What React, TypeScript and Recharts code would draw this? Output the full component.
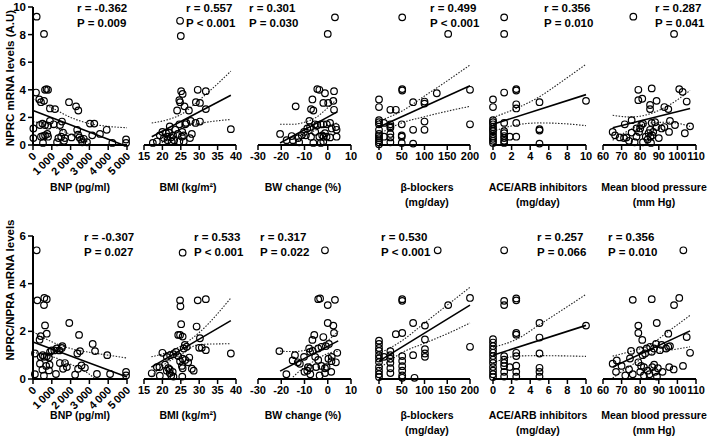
import { ComposedChart, Scatter, Line, XAxis, YAxis } from 'recharts';

type Pt = [number, number];

// x axes (shared by both rows)
const bnpTicks = [0, 1000, 2000, 3000, 4000, 5000];
const bmiTicks = [15, 20, 25, 30, 35, 40];
const bwTicks = [-30, -20, -10, 0, 10];
const betaTicks = [0, 50, 100, 150, 200];
const aceTicks = [0, 2, 4, 6, 8, 10];
const mbpTicks = [60, 70, 80, 90, 100, 110];
const topYTicks = [0, 2, 4, 6, 8, 10];
const bottomYTicks = [0, 2, 4, 6];

const xTitles = [
  ['BNP (pg/ml)'],
  ['BMI (kg/m²)'],
  ['BW change (%)'],
  ['β-blockers', '(mg/day)'],
  ['ACE/ARB inhibitors', '(mg/day)'],
  ['Mean blood pressure', '(mm Hg)'],
];
const topStats = [
  ['r = -0.362', 'P = 0.009'],
  ['r = 0.557', 'P < 0.001'],
  ['r = 0.301', 'P = 0.030'],
  ['r = 0.499', 'P < 0.001'],
  ['r = 0.356', 'P = 0.010'],
  ['r = 0.287', 'P = 0.041'],
];
const bottomStats = [
  ['r = -0.307', 'P = 0.027'],
  ['r = 0.533', 'P < 0.001'],
  ['r = 0.317', 'P = 0.022'],
  ['r = 0.530', 'P < 0.001'],
  ['r = 0.257', 'P = 0.066'],
  ['r = 0.356', 'P = 0.010'],
];

// ---- top row: NPRC mRNA levels ----
const bnpNprc: Pt[] = [[195,9.3],[585,8.05],[160,3.8],[640,4.0],[720,4.05],[800,4.0],[335,3.3],[425,3.1],[585,3.2],[900,2.65],[1170,2.6],[1915,3.1],[2290,2.8],[2410,2.5],[20,1.2],[370,1.45],[500,1.55],[640,1.45],[800,1.4],[900,1.75],[20,0.5],[425,0.6],[530,0.65],[640,0.7],[800,0.6],[530,0.15],[760,0.8],[1280,0.2],[1436,1.45],[1540,1.7],[1600,0.9],[1700,0.5],[1650,0.3],[2350,1.1],[2400,0.75],[2470,0.55],[2560,0.4],[2620,0.2],[2700,0.45],[2870,0.2],[3030,1.55],[3260,1.55],[3150,0.7],[3560,0.8],[3920,1.1],[4220,0.15],[4950,0.4],[4950,0.15],[1350,0.5],[1500,0.6],[2050,0.55],[1100,1.5]];
const bnpNprcFit: Pt[] = [[0,2.5],[4800,0]];
const bnpNprcHi: Pt[] = [[0,3.35],[1000,2.7],[2000,2.0],[3000,1.55],[4000,1.35],[5000,1.25]];
const bnpNprcLo: Pt[] = [[0,1.7],[1000,1.35],[2000,0.75],[3000,0.08],[3050,0]];

const bmiNprc: Pt[] = [[24.8,9.0],[25.0,7.9],[25.1,3.9],[25.5,3.7],[24.6,3.25],[24.8,3.1],[26,2.8],[24,2.5],[27.2,2.5],[29.6,4.0],[31.8,3.9],[29.1,3.1],[30.2,3.05],[31.8,2.6],[38.6,1.15],[17.4,0.15],[19.3,0.7],[20,0.95],[20.4,0.5],[21,0.85],[21.3,0.6],[21.4,0.35],[21.8,0.9],[22,1.35],[22.3,0.55],[22.5,0.25],[22.9,0.7],[23.2,0.35],[24.6,1.5],[25.3,0.6],[25.4,0.95],[25.8,0.7],[26.2,1.5],[26.5,1.6],[27.5,0.5],[27.7,1.75],[29,1.6],[30.2,1.7],[24.6,0.25],[25.8,0.25],[18.5,0.25],[23.5,1.1],[28,0.8],[24.2,0.8]];
const bmiNprcFit: Pt[] = [[17.1,0.6],[38.6,3.6]];
const bmiNprcHi: Pt[] = [[17.1,1.6],[21,1.8],[25,2.2],[30,3.25],[38.6,5.35]];
const bmiNprcLo: Pt[] = [[19.3,0],[21,0.45],[25,1.2],[30,1.55],[38.6,1.85]];

const bwNprc: Pt[] = [[3.1,9.25],[0,8.05],[-4.5,4.05],[-3.6,4.0],[-1.2,3.75],[2.7,3.9],[-6.6,3.3],[-1.9,3.05],[0.2,3.05],[2.4,3.2],[-13.8,2.8],[-7.2,2.6],[-6.2,2.5],[2.7,2.55],[-7.9,1.75],[-5.5,1.5],[-4.5,1.45],[-3,1.5],[-1.9,1.5],[-0.4,1.5],[1,1.6],[-20.5,0.8],[-17.7,0.35],[-15.5,0.65],[-15,0.35],[-12.7,0.5],[-12.3,0.2],[-11.2,0.7],[-10.2,0.95],[-9.4,0.7],[-8.8,1.2],[-7.6,1.3],[-7.2,0.6],[-6.2,0.15],[-5.4,0.95],[-3.6,0.6],[-3.0,0.15],[-2.4,0.7],[-1.8,0.6],[-1.2,0.85],[-0.5,0.6],[1.0,0.55],[1.7,1.2],[3.5,1.3],[3.8,1.1],[3.8,0.6],[-1.9,0.25]];
const bwNprcFit: Pt[] = [[-20.5,0.15],[4.1,2.4]];
const bwNprcHi: Pt[] = [[-20.5,1.5],[-15,1.5],[-10,1.65],[-5,2.0],[0,2.7],[4.1,3.35]];
const bwNprcLo: Pt[] = [[-15,0],[-10,0.6],[-5,1.1],[0,1.4],[4.1,1.6]];

const betaNprc: Pt[] = [[51,9.25],[152,8.05],[51,4.05],[51,3.95],[0,3.3],[0,2.75],[25,2.55],[37,2.55],[75,3.1],[100,3.15],[100,3.0],[127,3.75],[200,4.0],[200,1.5],[0,1.8],[0,1.65],[0,1.5],[11,1.6],[25,1.5],[25,1.35],[25,1.25],[50,1.5],[75,1.1],[100,1.7],[100,1.1],[0,0.8],[0,0.65],[0,0.5],[0,0.35],[0,0.2],[0,1.1],[11,0.6],[25,0.8],[25,0.55],[50,0.7],[50,0.6],[50,0.15],[75,0.1],[0,0.05],[25,0.2]];
const betaNprcFit: Pt[] = [[0,1.3],[200,4.3]];
const betaNprcHi: Pt[] = [[0,1.75],[50,2.45],[100,3.55],[150,4.65],[200,5.8]];
const betaNprcLo: Pt[] = [[0,0.8],[50,1.6],[100,2.05],[150,2.45],[200,2.8]];

const aceNprc: Pt[] = [[1.2,9.25],[1.2,8.05],[0,3.3],[0,2.75],[1.2,3.8],[2.5,4.05],[2.5,3.95],[2.5,2.95],[2.5,2.65],[5,3.1],[10,3.2],[0,1.8],[0,1.65],[0,1.5],[0,1.3],[0,1.15],[0,1.0],[0,0.8],[0,0.6],[0,0.45],[0,0.3],[0,0.15],[1.2,1.6],[1.2,1.0],[1.2,0.85],[1.2,0.65],[1.2,0.5],[1.2,0.3],[1.2,0.15],[1.8,0.6],[2.5,0.6],[2.5,1.6],[5,1.15],[5,1.05],[5,0.1]];
const aceNprcFit: Pt[] = [[0,1.5],[10,3.65]];
const aceNprcHi: Pt[] = [[0,2.0],[2.5,2.65],[5,3.5],[7.5,4.65],[10,5.85]];
const aceNprcLo: Pt[] = [[0,1.0],[2.5,1.45],[5,1.6],[7.5,1.55],[10,1.4]];

const mbpNprc: Pt[] = [[76.3,9.3],[98.2,8.05],[79,4.0],[86.2,4.1],[101,4.05],[102.8,3.85],[79,3.25],[81.1,3.35],[88.8,3.2],[85.3,2.9],[85.3,2.6],[93,2.75],[95.1,2.6],[105,3.15],[75.4,1.8],[71.7,1.5],[65.2,0.95],[66.5,0.7],[69,0.55],[71.3,0.5],[72.6,0.55],[75.4,0.9],[78,0.6],[79.4,0.95],[80,1.2],[80.6,1.45],[81.5,1.55],[83,0.6],[84,0.4],[84.5,0.85],[85.5,0.6],[86.5,0.7],[87,0.95],[86.2,1.6],[88,1.65],[88.8,1.3],[91.5,1.2],[93,1.3],[96,1.75],[95.5,0.95],[98.7,1.45],[104,0.85],[106.8,1.35],[81.5,0.2],[85.8,0.15],[77,0.2],[78,1.2],[85.3,1.1],[90,0.5],[74,0.3]];
const mbpNprcFit: Pt[] = [[65.2,1.25],[106.8,2.65]];
const mbpNprcHi: Pt[] = [[65.2,2.15],[75,2.03],[85,2.25],[95,2.85],[106.8,3.95]];
const mbpNprcLo: Pt[] = [[65.2,0.35],[75,1.13],[85,1.6],[95,1.65],[106.8,1.35]];

// ---- bottom row: NPRC/NPRA ratio ----
const bnpRatio: Pt[] = [[195,5.4],[230,3.3],[600,3.4],[730,3.35],[585,3.1],[640,2.25],[730,1.9],[1930,2.35],[2450,1.85],[105,1.07],[410,1.8],[350,1.65],[410,0.93],[515,1.0],[600,0.93],[730,0.95],[850,0.9],[905,1.14],[995,1.2],[1135,1.2],[1260,1.28],[1400,1.2],[1530,1.3],[1560,1.38],[2360,1.07],[2500,1.17],[3175,1.47],[3300,1.17],[3950,1.0],[100,0.2],[370,0.64],[500,0.39],[580,0.14],[880,0.6],[850,0.36],[1220,0.21],[1430,0.67],[1600,0.43],[1700,0.67],[2240,0.18],[2400,0.43],[2580,0.57],[2760,0.47],[3400,0.21],[4100,0.21],[4950,0.3],[4950,0.15],[1800,0.5],[700,0.55]];
const bnpRatioFit: Pt[] = [[0,1.55],[5000,0.08]];
const bnpRatioHi: Pt[] = [[0,1.98],[1000,1.56],[2000,1.28],[3000,1.12],[4000,1.0],[5000,0.88]];
const bnpRatioLo: Pt[] = [[0,1.12],[1000,0.94],[2000,0.62],[3000,0.2],[3300,0]];

const bmiRatio: Pt[] = [[25.5,5.3],[24.8,3.3],[24.9,3.05],[29.6,3.3],[31.8,3.35],[25.1,2.3],[29.3,2.2],[24.3,1.85],[24.8,1.85],[25.5,1.78],[26.1,1.43],[26.6,1.35],[25.8,1.28],[30.2,1.71],[30,1.31],[30.7,1.31],[31.8,1.21],[38.6,1.07],[20,1.1],[21.2,0.93],[22.1,1.0],[23,1.04],[23.7,1.14],[24.3,0.96],[24.8,0.75],[25.5,0.85],[26.2,0.8],[27,0.7],[27.3,0.9],[19.2,0.5],[17.1,0.24],[18.5,0.5],[19.3,0.14],[20.7,0.6],[21.2,0.35],[21.6,0.45],[22,0.25],[22,0.4],[22.4,0.15],[22.8,0.3],[23,0.1],[25.3,0.55],[25.5,0.45],[25.4,0.1],[28,0.43],[28.5,0.35]];
const bmiRatioFit: Pt[] = [[17,0.5],[38.6,2.45]];
const bmiRatioHi: Pt[] = [[17,0.93],[20,1.05],[25,1.38],[30,1.95],[38.6,3.4]];
const bmiRatioLo: Pt[] = [[17,0.1],[20,0.55],[25,1.02],[30,1.45],[38.6,1.48]];

const bwRatio: Pt[] = [[-1.2,5.4],[-4.1,3.35],[-3.3,3.38],[3.1,3.32],[0,3.1],[0,2.35],[2.4,2.24],[-6.6,1.64],[-5.8,1.85],[-1.9,1.76],[2.7,1.93],[-20.8,1.17],[-14.1,1.0],[-10.2,0.93],[-7.6,1.14],[-6.5,1.18],[-8,1.28],[-4.1,1.28],[-2.7,1.35],[-0.8,1.38],[0.5,1.47],[4.1,1.1],[1.7,0.93],[-5.4,0.93],[-4.1,0.8],[0.3,0.85],[-15.1,0.78],[-12,0.64],[-8.5,0.5],[-7.6,0.45],[-5,0.5],[-2.7,0.55],[-1.2,0.45],[-17.8,0.2],[-12.9,0.7],[-10,0.3],[-8.8,0.35],[-7.5,0.2],[-1.2,0.25],[-0.5,0.5],[1.6,0.75],[3.5,0.7],[-3.5,0.15],[1.5,0.3]];
const bwRatioFit: Pt[] = [[-20.5,0.33],[4.5,1.6]];
const bwRatioHi: Pt[] = [[-20.5,1.17],[-15,1.15],[-10,1.2],[-5,1.38],[0,1.62],[4.5,2.0]];
const bwRatioLo: Pt[] = [[-15,0.08],[-10,0.5],[-5,0.8],[0,1.07],[4.5,1.17]];

const betaRatio: Pt[] = [[129,5.4],[51,3.35],[51,3.28],[0,1.61],[0,1.47],[0,1.18],[0,1.0],[0,0.86],[0,0.71],[0,0.5],[11,0.93],[25,1.17],[25,1.0],[25,0.85],[25,0.68],[37,1.88],[51,1.93],[75,2.35],[101,2.24],[152,3.1],[51,0.96],[51,0.76],[51,0.54],[75,1.0],[101,1.66],[101,1.25],[101,1.07],[101,0.93],[200,3.4],[200,1.35],[0,0.35],[0,0.2],[0,0.08],[25,0.45],[51,0.35],[51,0.15],[51,0.05],[78,0.05],[0,1.3],[25,0.25]];
const betaRatioFit: Pt[] = [[0,0.75],[200,3.1]];
const betaRatioHi: Pt[] = [[0,1.07],[50,1.6],[100,2.35],[150,3.1],[200,3.85]];
const betaRatioLo: Pt[] = [[0,0.43],[50,1.1],[100,1.5],[150,1.9],[200,2.35]];

const aceRatio: Pt[] = [[1.2,5.4],[1.2,3.28],[1.2,3.1],[2.5,3.38],[2.5,3.3],[2.5,1.93],[2.5,1.86],[5,2.35],[5,1.74],[10,2.24],[0,1.67],[0,1.53],[0,1.38],[0,1.24],[0,1.1],[0,0.96],[0,0.81],[0,0.67],[0,0.5],[1.2,0.96],[1.2,0.81],[1.2,0.67],[1.2,0.54],[1.8,0.5],[2.5,0.56],[2.5,1.1],[2.5,0.96],[5,1.07],[5,0.47],[0,0.35],[0,0.2],[0,0.08],[1.2,0.3],[1.2,0.1],[2.5,0.3],[2.5,0.1],[5,0.3],[5,0.1]];
const aceRatioFit: Pt[] = [[0,1.0],[10,2.25]];
const aceRatioHi: Pt[] = [[0,1.33],[2.5,1.66],[5,2.28],[7.5,2.91],[10,3.55]];
const aceRatioLo: Pt[] = [[0,0.67],[2.5,0.96],[5,0.98],[7.5,0.97],[10,0.95]];

const mbpRatio: Pt[] = [[103.2,5.4],[76,3.32],[86.2,3.35],[101,3.4],[98.2,3.1],[79,2.24],[79,1.93],[88.9,2.35],[81.1,1.64],[95.1,1.9],[105,1.76],[106.8,1.1],[75.1,1.18],[79.9,1.21],[81.3,1.0],[82.6,1.07],[83.5,1.28],[85.3,1.35],[86.2,1.14],[87.4,1.28],[88.5,1.47],[90.6,1.21],[91.5,1.43],[93.9,1.28],[95.1,1.35],[96,1.38],[65.2,0.64],[67.4,0.78],[74.5,0.86],[79,0.7],[80.5,0.55],[82,0.5],[86.5,0.5],[87.5,0.6],[89.5,0.45],[95.6,0.5],[103,0.55],[67,0.3],[70,0.55],[72,0.15],[74,0.4],[76,0.2],[80,0.3],[82,0.15],[84,0.35],[85,0.2],[88,0.3],[89,0.1],[92,0.3],[98,0.4]];
const mbpRatioFit: Pt[] = [[65.2,0.5],[106.8,2.02]];
const mbpRatioHi: Pt[] = [[65.2,0.96],[75,1.16],[85,1.42],[95,1.99],[106.8,2.67]];
const mbpRatioLo: Pt[] = [[65.2,0.04],[75,0.56],[85,1.02],[95,1.19],[106.8,1.35]];

const FONT = '"Liberation Sans", Arial, sans-serif';
const toXY = (a: Pt[]) => a.map(([x, y]) => ({ x, y }));

// pixel layout of the six columns and two rows
const COLS = [
  { left: 33, w: 94 },
  { left: 144, w: 92 },
  { left: 258, w: 93 },
  { left: 379, w: 91 },
  { left: 493, w: 93 },
  { left: 603, w: 93 },
];
const xTicksByCol = [bnpTicks, bmiTicks, bwTicks, betaTicks, aceTicks, mbpTicks];
const titleX = [80, 188, 303, 427, 538, 654];
const topStatX = [77, 186, 249, 430, 544, 655];
const bottomStatX = [84, 194, 260, 381, 537, 608];

const topSeries = [
  [bnpNprc, bnpNprcFit, bnpNprcHi, bnpNprcLo],
  [bmiNprc, bmiNprcFit, bmiNprcHi, bmiNprcLo],
  [bwNprc, bwNprcFit, bwNprcHi, bwNprcLo],
  [betaNprc, betaNprcFit, betaNprcHi, betaNprcLo],
  [aceNprc, aceNprcFit, aceNprcHi, aceNprcLo],
  [mbpNprc, mbpNprcFit, mbpNprcHi, mbpNprcLo],
];
const bottomSeries = [
  [bnpRatio, bnpRatioFit, bnpRatioHi, bnpRatioLo],
  [bmiRatio, bmiRatioFit, bmiRatioHi, bmiRatioLo],
  [bwRatio, bwRatioFit, bwRatioHi, bwRatioLo],
  [betaRatio, betaRatioFit, betaRatioHi, betaRatioLo],
  [aceRatio, aceRatioFit, aceRatioHi, aceRatioLo],
  [mbpRatio, mbpRatioFit, mbpRatioHi, mbpRatioLo],
];

const PAD = 16;
const Y_W = 26;

const Ring = (p: any) => {
  if (p.cx == null || p.cy == null) return <g />;
  return <circle cx={p.cx} cy={p.cy} r={3.3} fill="none" stroke="#000" strokeWidth={1.2} />;
};

const fmtBnp = (v: number) => (v === 0 ? '0' : `${v / 1000}\u2009000`);

const RotTick = (p: any) => {
  const { x, y, payload } = p;
  const tx = x + 4;
  const ty = y + 5;
  return (
    <text x={tx} y={ty} transform={`rotate(-45 ${tx} ${ty})`} textAnchor="end" fontSize={11} fontFamily={FONT} fontWeight="bold" fill="#000">
      {fmtBnp(payload.value)}
    </text>
  );
};

function Panel({ col, top, h, yMax, yTicks, series }: any) {
  const { left, w } = COLS[col];
  const showY = col === 0;
  const padL = showY ? PAD + Y_W : PAD;
  const axisH = col === 0 ? 40 : 22;
  const ticks = xTicksByCol[col];
  const [pts, fit, hi, lo] = series;
  return (
    <div style={{ position: 'absolute', left: left - padL, top: top - 8 }}>
      <ComposedChart
        width={padL + w + PAD}
        height={8 + h + axisH}
        margin={{ top: 8, right: PAD, bottom: 0, left: PAD }}
      >
        <XAxis
          type="number"
          dataKey="x"
          domain={[ticks[0], ticks[ticks.length - 1]]}
          ticks={ticks}
          interval={0}
          height={axisH}
          axisLine={{ stroke: '#000', strokeWidth: 2 }}
          tickLine={{ stroke: '#000', strokeWidth: 1.5 }}
          tickSize={5}
          tick={col === 0 ? <RotTick /> : { fontSize: 11, fill: '#000', fontFamily: FONT, fontWeight: 'bold' }}
        />
        <YAxis
          type="number"
          dataKey="y"
          domain={[0, yMax]}
          ticks={yTicks}
          interval={0}
          hide={!showY}
          width={Y_W}
          axisLine={{ stroke: '#000', strokeWidth: 2 }}
          tickLine={{ stroke: '#000', strokeWidth: 1.5 }}
          tickSize={5}
          tick={{ fontSize: 11.5, fill: '#000', fontFamily: FONT, fontWeight: 'bold' }}
        />
        <Line data={toXY(hi)} dataKey="y" type="monotone" stroke="#222" strokeWidth={1.1} strokeDasharray="1.5 1.5" dot={false} isAnimationActive={false} />
        <Line data={toXY(lo)} dataKey="y" type="monotone" stroke="#222" strokeWidth={1.1} strokeDasharray="1.5 1.5" dot={false} isAnimationActive={false} />
        <Line data={toXY(fit)} dataKey="y" type="linear" stroke="#000" strokeWidth={1.6} dot={false} isAnimationActive={false} />
        <Scatter data={toXY(pts)} dataKey="y" shape={Ring} isAnimationActive={false} />
      </ComposedChart>
    </div>
  );
}

export default function App() {
  const rows = [
    { top: 7, h: 138, yMax: 10, yTicks: topYTicks, series: topSeries, stats: topStats, statX: topStatX, statY: 12, titleY: 191 },
    { top: 236, h: 143, yMax: 6, yTicks: bottomYTicks, series: bottomSeries, stats: bottomStats, statX: bottomStatX, statY: 241, titleY: 419 },
  ];
  return (
    <div style={{ position: 'absolute', left: 0, top: 0, width: 709, height: 442, background: '#fff', fontFamily: FONT }}>
      {rows.map((r, ri) =>
        COLS.map((_, ci) => (
          <Panel key={`${ri}-${ci}`} col={ci} top={r.top} h={r.h} yMax={r.yMax} yTicks={r.yTicks} series={r.series[ci]} />
        ))
      )}
      <svg width={709} height={442} style={{ position: 'absolute', left: 0, top: 0, pointerEvents: 'none' }}>
        <g fontFamily={FONT} fontWeight="bold" fill="#000">
          {rows.map((r, ri) =>
            r.stats.map((s, ci) => (
              <g key={`s${ri}-${ci}`} fontSize={11.5}>
                <text x={r.statX[ci]} y={r.statY}>{s[0]}</text>
                <text x={r.statX[ci]} y={r.statY + 15}>{s[1]}</text>
              </g>
            ))
          )}
          {rows.map((r, ri) =>
            xTitles.map((t, ci) => (
              <text key={`t${ri}-${ci}`} x={titleX[ci]} y={r.titleY} textAnchor="middle" fontSize={10.5}>
                {t.map((line, li) => (
                  <tspan key={li} x={titleX[ci]} dy={li === 0 ? 0 : 15}>{line}</tspan>
                ))}
              </text>
            ))
          )}
          <text transform="translate(14 78) rotate(-90)" textAnchor="middle" fontSize={11.5}>NPRC mRNA levels (A.U)</text>
          <text transform="translate(14 290) rotate(-90)" textAnchor="middle" fontSize={11.5}>NPRC/NPRA mRNA levels</text>
        </g>
      </svg>
    </div>
  );
}
